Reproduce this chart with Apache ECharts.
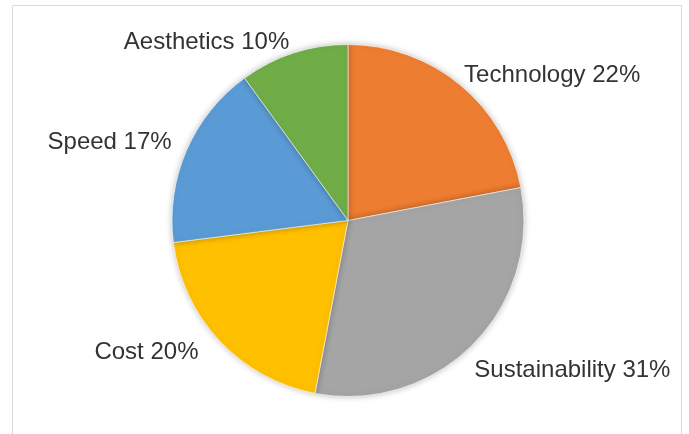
<!DOCTYPE html>
<html>
<head>
<meta charset="utf-8">
<script src="https://cdn.jsdelivr.net/npm/echarts@6/dist/echarts.min.js"></script>
<style>
  html, body { margin: 0; padding: 0; background: #fff; }
  #main { width: 689px; height: 434px; }
</style>
</head>
<body>
<div id="main"></div>
<script>
// slice names and shares (%), clockwise from the top
var categories = ["Technology", "Sustainability", "Cost", "Speed", "Aesthetics"];
var shares = [22, 31, 20, 17, 10];
var sliceColors = ["#ED7D31", "#A5A5A5", "#FFC000", "#5B9BD5", "#70AD47"];

var chart = echarts.init(document.getElementById("main"));

var pieData = categories.map(function (name, i) {
  return { name: name, value: shares[i], itemStyle: { color: sliceColors[i] } };
});

// small nudges so the labels sit like Excel's "best fit" ones
var labelNudge = [[-10, 1], [-13, 16], [-6, 2], [3, -3], [5, 3]];

var option = {
  backgroundColor: "#fff",
  animation: false,
  graphic: [
    {
      type: "rect",
      shape: { x: 12.5, y: 5.5, width: 669, height: 440 },
      style: { fill: "none", stroke: "#d9d9d9", lineWidth: 1 },
      silent: true,
    },
  ],
  series: [
    {
      type: "pie",
      center: [348, 220.5],
      radius: [0, 176],
      startAngle: 90,
      clockwise: true,
      data: pieData,
      avoidLabelOverlap: false,
      itemStyle: {
        borderColor: "rgba(255,255,255,0.6)",
        borderWidth: 1,
        shadowBlur: 6,
        shadowColor: "rgba(0,0,0,0.25)",
      },
      label: {
        show: true,
        position: "outside",
        formatter: "{b} {c}%",
        fontFamily: "Liberation Sans, Arial, sans-serif",
        fontSize: 24,
        color: "#333333",
      },
      labelLine: { show: false, length: 14, length2: 0 },
      labelLayout: function (params) {
        var n = labelNudge[params.dataIndex];
        return { dx: n[0], dy: n[1] };
      },
      emphasis: { disabled: true },
    },
  ],
};
chart.setOption(option);
</script>
</body>
</html>
